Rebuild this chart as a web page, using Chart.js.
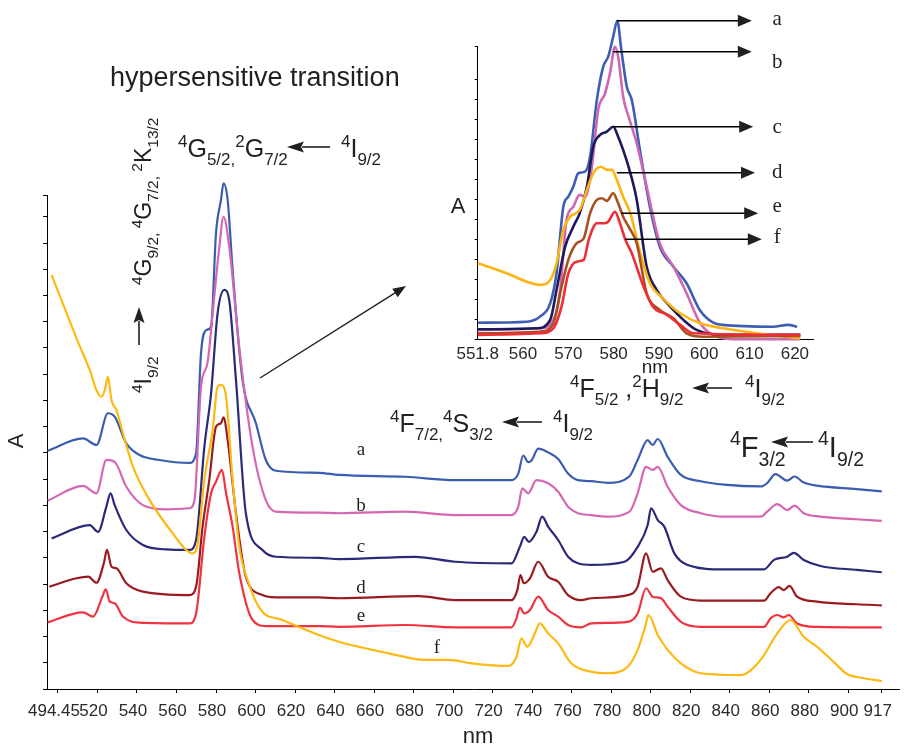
<!DOCTYPE html>
<html><head><meta charset="utf-8">
<script src="https://cdn.jsdelivr.net/npm/chart.js@4/dist/chart.umd.min.js"></script>
<style>
html,body{margin:0;padding:0;background:#fff;}
#wrap{position:relative;width:904px;height:746px;overflow:hidden;background:#fff;}
#main{position:absolute;left:0;top:0;}
#inset{position:absolute;left:440px;top:0;}
</style></head><body>
<div id="wrap"><canvas id="main" width="904" height="746"></canvas><canvas id="inset" width="400" height="390"></canvas></div>
<script>
// ---------- DATA (wavelength nm, absorbance in arbitrary tick units) ----------
const mainTickValues = [500,520,540,560,580,600,620,640,660,680,700,720,740,760,780,800,820,840,860,880,900,917];
const mainTickLabels = ['494.45','520','540','560','580','600','620','640','660','680','700','720','740','760','780','800','820','840','860','880','900','917'];
const insetTickValues = [550,560,570,580,590,600,610,620];
const insetTickLabels = ['551.8','560','570','580','590','600','610','620'];
const seriesLabels = ['a','b','c','d','e','f'];

const mainA = [[494.8,9.08],[512.7,9.55],[519.5,9.30],[525.3,10.51],[528.7,10.38],[534.6,9.36],[541.3,8.92],[551.4,8.73],[566.5,8.62],[569.9,8.98],[572.4,12.79],[575.0,13.68],[577.5,13.81],[580.0,17.38],[582.5,18.64],[583.8,19.27],[585.9,18.64],[588.4,15.97],[593.4,11.78],[600.2,10.13],[605.2,8.73],[610.3,8.32],[632.1,8.24],[642.2,8.16],[675.8,8.09],[701.0,7.96],[729.6,7.96],[733.0,8.21],[735.5,8.90],[738.0,8.65],[739.7,8.71],[743.1,9.16],[748.1,9.02],[753.2,8.77],[758.2,8.21],[763.2,7.96],[769.9,7.92],[778.3,7.86],[789.3,8.11],[793.4,8.73],[798.5,9.49],[801.0,9.30],[803.6,9.53],[808.6,8.85],[815.3,8.16],[825.4,7.92],[837.2,7.79],[855.7,7.72],[859.0,7.85],[863.2,8.19],[869.1,7.94],[872.8,8.10],[877.5,7.87],[884.2,7.75],[904.4,7.62],[917.0,7.53]];
const mainB = [[494.8,7.18],[512.7,7.74],[519.5,7.46],[524.5,8.73],[528.7,8.66],[534.6,7.71],[543.0,7.01],[554.8,6.85],[566.5,6.89],[569.1,7.20],[572.4,11.52],[575.8,12.47],[578.3,14.32],[581.7,16.86],[583.8,18.00],[586.7,16.86],[591.7,13.05],[598.5,9.23],[605.2,7.20],[610.3,6.76],[632.1,6.72],[642.2,6.70],[675.8,6.76],[701.0,6.63],[729.6,6.63],[733.0,6.95],[735.0,7.65],[738.0,7.46],[742.2,7.96],[748.1,7.84],[753.2,7.52],[758.2,6.95],[763.2,6.70],[769.9,6.63],[778.3,6.57],[789.3,6.76],[793.4,7.46],[797.7,8.47],[801.0,8.35],[803.6,8.47],[808.6,7.71],[815.3,7.01],[825.4,6.70],[837.2,6.57],[855.7,6.57],[859.0,6.76],[864.1,7.05],[869.1,6.82],[872.8,6.99],[877.5,6.70],[885.9,6.57],[904.4,6.47],[917.0,6.41]];
const mainC = [[496.8,5.74],[516.1,6.25],[520.3,5.99],[524.5,6.95],[526.6,7.46],[528.7,7.01],[534.6,6.06],[543.0,5.49],[554.8,5.32],[566.5,5.30],[569.9,5.68],[574.1,9.23],[577.5,11.27],[580.8,14.32],[584.2,15.21],[586.7,14.82],[590.1,11.78],[595.1,6.70],[603.5,5.30],[610.3,5.04],[632.1,5.00],[642.2,4.95],[680.9,5.04],[701.0,4.85],[729.6,4.79],[733.8,5.42],[736.0,5.80],[738.4,5.61],[742.2,5.99],[745.1,6.57],[748.1,6.19],[753.2,5.68],[758.2,5.04],[763.2,4.79],[769.9,4.73],[786.8,4.85],[793.4,5.42],[798.5,6.25],[800.2,6.89],[803.6,6.44],[806.9,6.19],[812.0,5.17],[818.7,4.73],[837.2,4.56],[857.4,4.56],[862.4,4.92],[869.1,5.04],[872.5,5.19],[877.5,4.92],[885.9,4.69],[904.4,4.54],[917.0,4.45]];
const mainD = [[495.6,3.90],[509.4,4.22],[515.3,4.28],[519.5,4.05],[523.2,4.79],[524.8,5.30],[527.1,4.66],[529.6,4.60],[534.6,4.03],[543.0,3.71],[566.5,3.58],[569.9,3.90],[573.2,6.19],[576.6,7.97],[580.0,10.00],[582.5,10.13],[583.8,10.35],[585.9,9.49],[590.1,6.70],[595.1,4.28],[603.5,3.58],[610.3,3.49],[632.1,3.49],[642.2,3.46],[682.5,3.54],[701.0,3.39],[729.6,3.39],[732.5,3.77],[734.1,4.34],[735.8,4.03],[738.9,4.22],[743.1,4.85],[748.1,4.28],[753.2,4.09],[758.2,3.58],[764.9,3.39],[769.9,3.46],[788.4,3.58],[793.4,3.90],[797.7,5.17],[801.0,4.47],[805.2,4.60],[808.6,4.15],[815.3,3.52],[825.4,3.37],[857.4,3.37],[860.7,3.65],[864.9,3.88],[867.4,3.77],[870.3,3.93],[874.1,3.52],[884.2,3.33],[904.4,3.23],[917.0,3.19]];
const mainE = [[494.8,2.54],[512.7,2.92],[517.8,2.76],[522.5,3.52],[524.2,3.80],[526.2,3.33],[528.7,3.27],[532.9,2.76],[541.3,2.53],[566.5,2.50],[569.9,2.88],[574.1,5.80],[577.5,7.46],[580.0,7.90],[583.0,8.35],[585.1,7.46],[588.4,6.19],[591.8,4.41],[598.5,2.63],[605.2,2.40],[632.1,2.40],[642.2,2.37],[675.8,2.44],[701.0,2.35],[729.6,2.35],[732.1,2.69],[733.8,3.10],[736.0,2.88],[738.9,3.01],[743.1,3.52],[748.1,3.01],[753.2,2.76],[758.2,2.44],[764.9,2.35],[769.9,2.50],[788.4,2.56],[793.4,2.88],[797.7,3.84],[801.0,3.52],[805.2,3.46],[808.6,3.14],[815.3,2.56],[825.4,2.37],[857.4,2.37],[860.7,2.69],[864.1,2.82],[867.4,2.73],[869.9,2.82],[874.1,2.50],[884.2,2.37],[917.0,2.35]];
const mainF = [[496.8,15.78],[504.4,14.32],[511.1,13.05],[516.1,12.16],[519.5,11.39],[522.0,11.14],[523.7,11.39],[525.3,11.90],[527.1,11.01],[529.6,10.63],[532.9,9.74],[538.0,8.47],[546.4,7.20],[558.1,5.93],[564.9,5.30],[568.2,5.17],[570.7,5.55],[574.1,7.97],[578.3,9.87],[580.8,11.52],[582.5,11.59],[585.1,11.14],[588.4,7.97],[591.8,5.42],[596.0,4.15],[602.7,3.01],[613.6,2.63],[632.1,2.06],[642.2,1.80],[667.4,1.36],[685.9,1.11],[697.7,1.11],[709.4,0.98],[727.9,0.88],[732.1,1.23],[734.6,1.93],[737.6,1.61],[741.4,2.12],[743.9,2.50],[748.1,2.12],[753.2,1.74],[759.8,0.98],[769.9,0.66],[778.3,0.60],[788.4,0.85],[793.4,1.49],[797.2,2.37],[798.9,2.82],[803.6,2.06],[808.6,1.49],[815.3,0.98],[825.4,0.60],[845.6,0.53],[855.7,1.11],[864.1,2.12],[870.8,2.63],[877.5,1.99],[884.2,1.61],[892.7,1.03],[899.4,0.57],[907.4,0.42],[917.0,0.30]];

const insetA = [[550.0,0.83],[560.8,0.88],[563.7,1.13],[566.0,1.80],[567.4,3.30],[568.9,6.63],[570.0,7.13],[571.1,7.63],[572.2,8.30],[573.7,8.38],[574.8,9.13],[576.3,11.97],[577.7,13.63],[578.8,14.13],[579.9,15.13],[580.8,15.93],[581.7,14.47],[582.9,12.63],[584.0,11.97],[585.8,9.47],[588.0,6.63],[590.2,4.63],[593.2,3.63],[596.1,2.80],[599.0,1.47],[602.0,0.83],[604.2,0.72],[615.2,0.63],[618.5,0.72],[620.5,0.63]];
const insetB = [[550.0,0.47],[563.7,0.55],[566.7,0.97],[568.2,2.47],[569.6,5.97],[571.1,6.63],[572.5,7.22],[573.7,7.13],[575.2,8.63],[576.6,11.47],[578.1,12.30],[579.2,13.30],[580.3,14.63],[581.0,14.13],[582.1,12.13],[583.3,11.13],[585.1,9.80],[587.3,7.63],[590.2,4.80],[593.2,3.63],[596.1,2.30],[599.1,0.80],[602.8,0.13],[607.9,0.0],[621.2,0.0]];
const insetC = [[550.0,0.50],[563.0,0.55],[566.0,0.97],[567.4,2.47],[569.3,4.63],[571.1,5.63],[572.5,6.30],[574.1,7.63],[575.5,9.63],[577.0,10.22],[578.5,10.38],[579.9,10.63],[581.0,10.13],[582.1,9.47],[583.7,8.30],[585.1,6.97],[587.3,3.63],[589.5,2.47],[592.5,1.63],[595.4,0.97],[598.3,0.47],[604.2,0.22],[621.2,0.22]];
const insetD = [[550.0,3.80],[556.4,3.30],[560.8,2.88],[563.7,2.72],[566.0,2.97],[567.4,3.80],[568.9,5.47],[570.4,6.13],[572.5,6.47],[574.1,7.47],[575.5,8.30],[577.2,8.63],[578.5,8.47],[579.6,8.47],[580.7,7.97],[582.1,7.13],[583.7,6.30],[585.9,4.30],[588.0,2.80],[590.9,2.05],[594.7,1.30],[599.1,0.80],[604.2,0.55],[611.6,0.30],[621.2,0.05]];
const insetE = [[550.0,0.30],[563.7,0.38],[566.7,0.80],[568.5,2.63],[570.0,3.97],[571.8,4.80],[573.4,5.05],[574.8,6.30],[576.3,6.97],[577.4,7.05],[578.5,6.92],[579.9,7.30],[581.0,6.80],[582.1,6.13],[583.3,5.63],[585.1,4.80],[587.3,2.30],[590.2,1.47],[593.2,1.05],[596.1,0.30],[599.8,0.13],[621.2,0.17]];
const insetF = [[550.0,0.22],[563.7,0.30],[566.7,0.55],[568.5,1.63],[570.0,3.30],[571.8,3.88],[573.4,3.97],[574.5,4.97],[576.3,5.80],[577.7,5.80],[578.8,5.88],[580.3,6.38],[581.4,5.80],[582.6,4.97],[584.0,4.30],[586.6,2.63],[588.7,1.63],[591.8,1.22],[594.7,0.72],[597.6,0.30],[621.2,0.22]];

// inset pointer arrows: peak position (nm, A) -> arrow end nm, label A
const insetPointers = [
  {label:'a', nm:580.7, v:15.93, end:610.5, tv:15.72},
  {label:'b', nm:579.9, v:14.38, end:610.5, tv:13.55},
  {label:'c', nm:579.9, v:10.63, end:610.8, tv:10.32},
  {label:'d', nm:580.7, v:8.33,  end:611.2, tv:8.07},
  {label:'e', nm:581.7, v:6.30,  end:611.9, tv:6.38},
  {label:'f', nm:582.5, v:5.00,  end:612.7, tv:4.80}
];

// ---------- STYLE ----------
const FONT = '"Liberation Sans", Arial, Helvetica, sans-serif';
const SERIF = '"Liberation Serif", "Times New Roman", serif';
const INK = '#231f20';
const mainColors = {a:'#3b5db0', b:'#d466b4', c:'#2b2a78', d:'#991b20', e:'#ef3340', f:'#fdb913'};
const insetColors = {a:'#3d5eb2', b:'#d067b3', c:'#1c1a5c', d:'#fdb515', e:'#a8501f', f:'#ee2e36'};

function toXY(arr){ return arr.map(p => ({x:p[0], y:p[1]})); }

function rich(ctx, x, y, parts, size, sub) {
  let cx = x;
  for (const [t, m] of parts) {
    const fs = m === 'n' ? size : sub;
    ctx.font = fs + 'px ' + FONT;
    const dy = m === 'sup' ? -size * 0.40 : (m === 'sub' ? size * 0.30 : 0);
    ctx.fillText(t, cx, y + dy);
    cx += ctx.measureText(t).width;
  }
  return cx;
}
function arrow(ctx, x1, y1, x2, y2, len, half, lw, notch) {
  const a = Math.atan2(y2 - y1, x2 - x1);
  const c = Math.cos(a), s = Math.sin(a);
  const bx = x2 - c * len, by = y2 - s * len;
  ctx.lineWidth = lw;
  ctx.beginPath(); ctx.moveTo(x1, y1); ctx.lineTo(bx + c * 2, by + s * 2); ctx.stroke();
  ctx.beginPath(); ctx.moveTo(x2, y2);
  ctx.lineTo(bx - s * half, by + c * half);
  ctx.lineTo(bx + c * (notch || 0), by + s * (notch || 0));
  ctx.lineTo(bx + s * half, by - c * half);
  ctx.closePath(); ctx.fill();
}

const mainNotes = {
  id: 'mainNotes',
  afterDraw(chart) {
    const ctx = chart.ctx;
    ctx.save();
    ctx.fillStyle = INK; ctx.strokeStyle = INK;
    ctx.textBaseline = 'alphabetic'; ctx.textAlign = 'left';
    ctx.font = '27px ' + FONT;
    ctx.fillText('hypersensitive transition', 110, 86);
    rich(ctx, 178, 157, [['4','sup'],['G','n'],['5/2,','sub'],['2','sup'],['G','n'],['7/2','sub']], 25, 17);
    arrow(ctx, 330, 147, 287, 147, 17, 5.5, 1.6, 3);
    rich(ctx, 341, 157, [['4','sup'],['I','n'],['9/2','sub']], 25, 17);
    ctx.save();
    ctx.translate(151, 393); ctx.rotate(-Math.PI / 2);
    rich(ctx, 0, 0, [['4','sup'],['I','n'],['9/2','sub']], 23, 15.5);
    arrow(ctx, 48, -12, 86, -12, 16, 5.5, 1.6, 3);
    rich(ctx, 108, 0, [['4','sup'],['G','n'],['9/2, ','sub'],['4','sup'],['G','n'],['7/2, ','sub'],['2','sup'],['K','n'],['13/2','sub']], 23, 15.5);
    ctx.restore();
    rich(ctx, 390, 432, [['4','sup'],['F','n'],['7/2,','sub'],['4','sup'],['S','n'],['3/2','sub']], 25, 17);
    arrow(ctx, 542, 422, 502, 422, 17, 5.5, 1.6, 3);
    rich(ctx, 553, 432, [['4','sup'],['I','n'],['9/2','sub']], 25, 17);
    rich(ctx, 570, 397, [['4','sup'],['F','n'],['5/2','sub'],[' ,','n'],['2','sup'],['H','n'],['9/2','sub']], 25, 17);
    arrow(ctx, 732, 388, 692, 388, 17, 5.5, 1.6, 3);
    rich(ctx, 745, 397, [['4','sup'],['I','n'],['9/2','sub']], 25, 17);
    rich(ctx, 730, 457, [['4','sup'],['F','n'],['3/2','sub']], 29, 19.5);
    arrow(ctx, 813, 442, 771, 442, 17, 5.5, 1.6, 3);
    rich(ctx, 818, 457, [['4','sup'],['I','n'],['9/2','sub']], 29, 19.5);
    arrow(ctx, 260, 378, 406, 286, 13, 5, 1.4, 0);
    ctx.font = '19px ' + SERIF; ctx.textAlign = 'center';
    const lx = 361;
    ctx.fillText('a', lx, 455);
    ctx.fillText('b', lx, 511);
    ctx.fillText('c', lx, 552);
    ctx.fillText('d', lx, 593);
    ctx.fillText('e', lx, 621);
    ctx.fillText('f', 437, 653);
    ctx.font = '22px ' + FONT; ctx.textBaseline = 'middle';
    ctx.fillText('nm', 478, 737);
    ctx.save(); ctx.translate(17, 441); ctx.rotate(-Math.PI / 2);
    ctx.fillText('A', 0, 0);
    ctx.restore();
    ctx.restore();
  }
};

const insetNotes = {
  id: 'insetNotes',
  afterDraw(chart) {
    const ctx = chart.ctx, xs = chart.scales.x, ys = chart.scales.y;
    ctx.save();
    ctx.fillStyle = INK; ctx.strokeStyle = '#000';
    for (const p of insetPointers) {
      const y = ys.getPixelForValue(p.v);
      arrow(ctx, xs.getPixelForValue(p.nm), y, xs.getPixelForValue(p.end), y, 14, 6, 1.6, 0);
      ctx.font = '21px ' + SERIF; ctx.textAlign = 'center'; ctx.textBaseline = 'alphabetic';
      ctx.fillText(p.label, xs.getPixelForValue(616.1), ys.getPixelForValue(p.tv));
    }
    ctx.font = '22px ' + FONT; ctx.textAlign = 'center'; ctx.textBaseline = 'middle';
    ctx.fillText('A', 18, 207);
    ctx.font = '19px ' + FONT;
    ctx.fillText('nm', 215, 368);
    ctx.restore();
  }
};

function axisCommon(tickLen) {
  return {
    grid: { drawOnChartArea: false, drawTicks: tickLen > 0, tickLength: tickLen, color: '#000', lineWidth: 1 },
    border: { display: true, color: '#000', width: 1 }
  };
}

const mainSeries = {a: mainA, b: mainB, c: mainC, d: mainD, e: mainE, f: mainF};
const mainOrder = ['f','e','d','c','b','a'];
new Chart(document.getElementById('main'), {
  type: 'line',
  data: {
    datasets: mainOrder.map(k => ({
      label: k, data: toXY(mainSeries[k]), borderColor: mainColors[k], backgroundColor: mainColors[k],
      borderWidth: 2.2, pointRadius: 0, fill: false, cubicInterpolationMode: 'monotone', clip: false
    }))
  },
  options: {
    responsive: false, animation: false, devicePixelRatio: 1,
    layout: { padding: { left: 0, top: 195, right: 1, bottom: 0 } },
    plugins: { legend: { display: false }, tooltip: { enabled: false } },
    scales: {
      x: Object.assign({
        type: 'linear', min: 494.45, max: 926.1,
        afterBuildTicks: s => { s.ticks = mainTickValues.map(v => ({ value: v })); },
        afterFit: s => { s.height = 57; },
        ticks: { autoSkip: false, maxRotation: 0, minRotation: 0, padding: 8, labelOffset: -4,
                 font: { size: 17, family: FONT }, color: '#2a2a2a',
                 callback: (v, i) => mainTickLabels[i] }
      }, axisCommon(4)),
      y: Object.assign({
        type: 'linear', min: 0, max: 18.83,
        afterFit: s => { s.width = 47; },
        ticks: { stepSize: 1, display: false }
      }, axisCommon(4))
    }
  },
  plugins: [mainNotes]
});

const insetSeries = {a: insetA, b: insetB, c: insetC, d: insetD, e: insetE, f: insetF};
const insetOrder = ['f','e','d','c','b','a'];
new Chart(document.getElementById('inset'), {
  type: 'line',
  data: {
    datasets: insetOrder.map(k => ({
      label: k, data: toXY(insetSeries[k]), borderColor: insetColors[k], backgroundColor: insetColors[k],
      borderWidth: 2.6, pointRadius: 0, fill: false, cubicInterpolationMode: 'monotone', clip: false
    }))
  },
  options: {
    responsive: false, animation: false, devicePixelRatio: 1,
    layout: { padding: { left: 0, top: 46.7, right: 27, bottom: 0 } },
    plugins: { legend: { display: false }, tooltip: { enabled: false } },
    scales: {
      x: Object.assign({
        type: 'linear', min: 550, max: 624,
        afterBuildTicks: s => { s.ticks = insetTickValues.map(v => ({ value: v })); },
        afterFit: s => { s.height = 50.7; },
        ticks: { autoSkip: false, maxRotation: 0, minRotation: 0, padding: 5,
                 font: { size: 17, family: FONT }, color: '#2a2a2a',
                 callback: (v, i) => insetTickLabels[i] }
      }, axisCommon(0)),
      y: Object.assign({
        type: 'linear', min: 0, max: 14.63,
        afterFit: s => { s.width = 37.7; },
        ticks: { stepSize: 1, display: false }
      }, axisCommon(3))
    }
  },
  plugins: [insetNotes]
});
</script>
</body></html>
